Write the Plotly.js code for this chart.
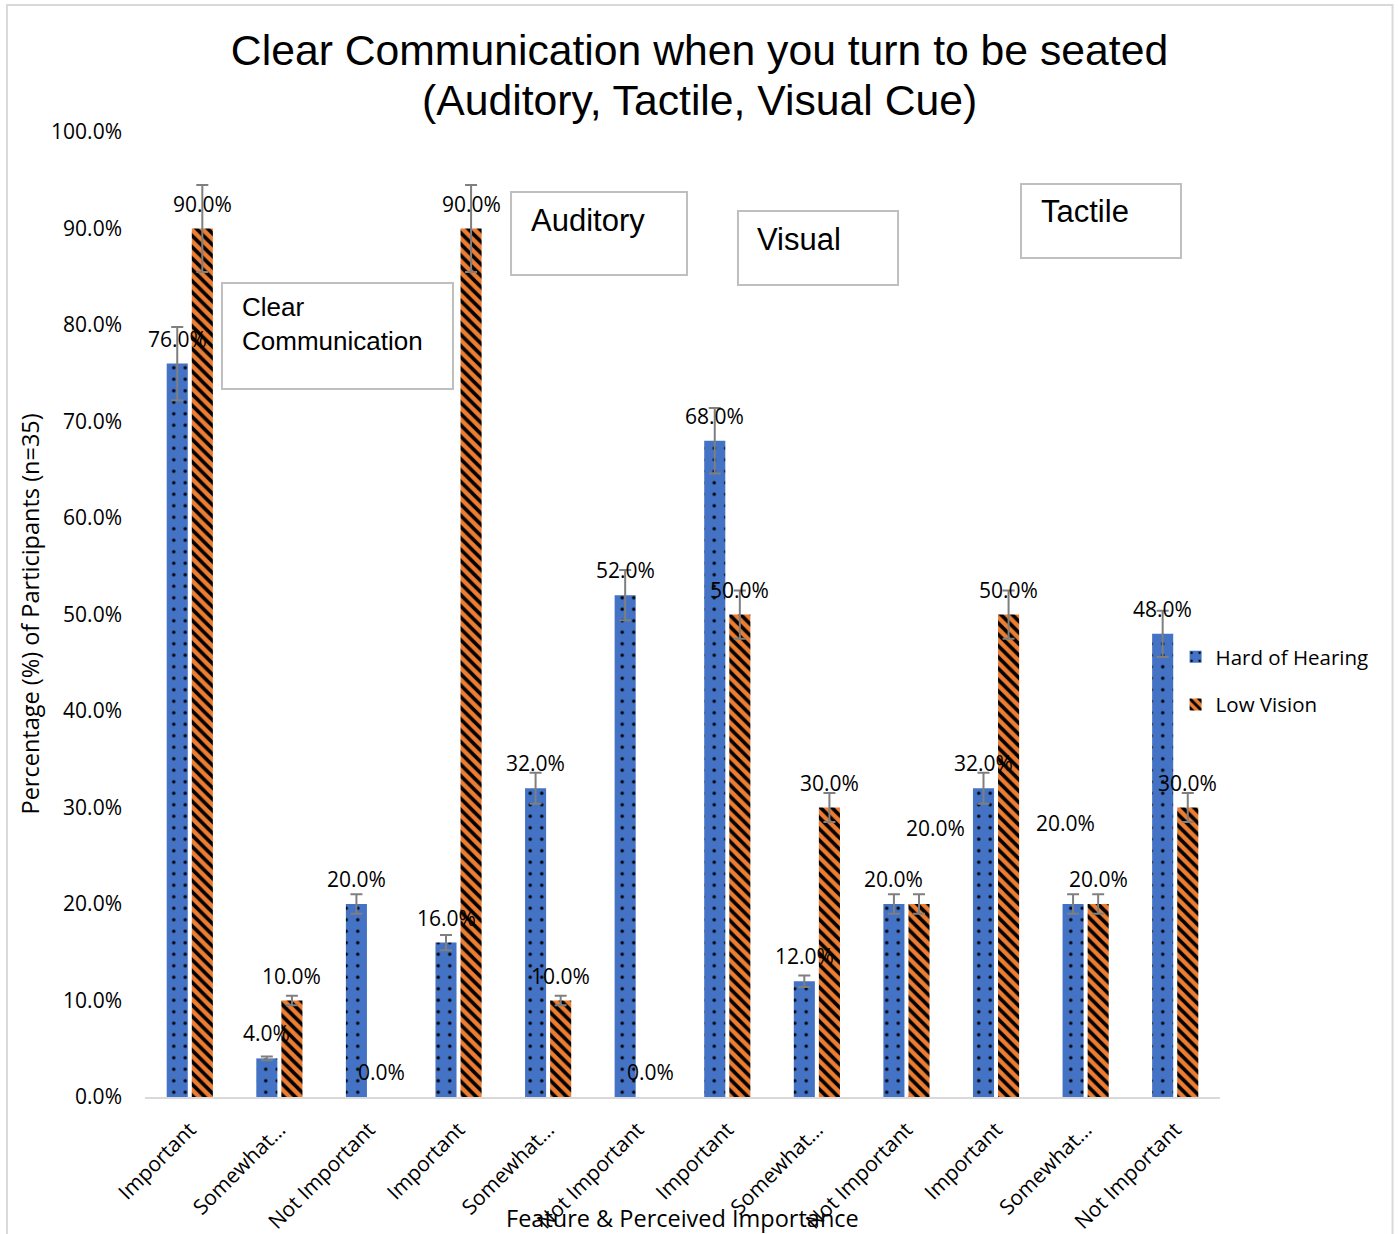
<!DOCTYPE html>
<html>
<head>
<meta charset="utf-8">
<script src="https://cdn.plot.ly/plotly-3.0.1.min.js"></script>
<style>
  html, body { margin: 0; padding: 0; background: #ffffff; }
  #chart { width: 1399px; height: 1234px; }
</style>
</head>
<body>
<div id="chart"></div>
<script>
// Response categories, grouped by feature (Clear Communication, Auditory, Visual, Tactile)
const tickLabels = [
  "Important", "Somewhat…", "Not Important",
  "Important", "Somewhat…", "Not Important",
  "Important", "Somewhat…", "Not Important",
  "Important", "Somewhat…", "Not Important"
];

// Percentage of participants per response
const hardOfHearing = [76, 4, 20, 16, 32, 52, 68, 12, 20, 32, 20, 48];
const lowVision     = [90, 10, 0, 90, 10, 0, 50, 30, 20, 50, 20, 30];

const seriesNames = ["Hard of Hearing", "Low Vision"];
const featureNames = ["Clear<br>Communication", "Auditory", "Visual", "Tactile"];
const titleLines = ["Clear Communication when you turn to be seated", "(Auditory, Tactile, Visual Cue)"];

// Error bars are 5% of each value; empty bars get none
const errorPercent = 5;

const xPos = tickLabels.map((_, i) => i);

const sansFamily = "Open Sans, Noto Sans, sans-serif";
const titleFamily = "Liberation Sans, Arial, sans-serif";
const labelFont = { family: sansFamily, size: 21, color: "#000000" };

function errBars(vals) {
  return {
    type: "data",
    array: vals.map(v => (v > 0 ? v * errorPercent / 100 : NaN)),
    visible: true,
    color: "#7f7f7f",
    thickness: 2,
    width: 6
  };
}

const traces = [
  {
    type: "bar",
    name: seriesNames[0],
    x: xPos,
    y: hardOfHearing,
    legendgroup: "hoh",
    marker: {
      color: "#4472C4",
      line: { width: 0 },
      pattern: { shape: ".", fillmode: "replace", fgcolor: "#000000", bgcolor: "#4472C4", size: 11.5, solidity: 0.07 }
    },
    error_y: errBars(hardOfHearing),
    hoverinfo: "y"
  },
  {
    type: "bar",
    name: seriesNames[1],
    x: xPos,
    y: lowVision,
    legendgroup: "lv",
    marker: {
      color: "#ED7D31",
      line: { width: 0 },
      pattern: { shape: "\\", fillmode: "replace", fgcolor: "#000000", bgcolor: "#ED7D31", size: 8, solidity: 0.45 }
    },
    error_y: errBars(lowVision),
    hoverinfo: "y"
  }
];

// Offset of each series' bar centre inside a category slot
const barOffset = 0.14;

// Value labels sit above each bar; two of them are nudged aside to avoid overlap
const nudges = {
  "1-8": { dx: 16, dy: -51 },
  "0-10": { dx: -8, dy: -56 }
};

const annotations = [];
[hardOfHearing, lowVision].forEach((vals, s) => {
  vals.forEach((v, i) => {
    const n = nudges[s + "-" + i] || { dx: 0, dy: 0 };
    annotations.push({
      x: i + (s === 0 ? -barOffset : barOffset),
      y: v,
      xref: "x", yref: "y",
      text: v.toFixed(1) + "%",
      showarrow: false,
      xanchor: "center", yanchor: "middle",
      xshift: n.dx,
      yshift: 25 - n.dy,
      font: labelFont
    });
  });
});

// Second line of the chart title
annotations.push({
  xref: "paper", yref: "paper",
  x: 0.5158, y: 1.0332,
  xanchor: "center", yanchor: "middle",
  text: titleLines[1],
  showarrow: false,
  font: { family: titleFamily, size: 42.7, color: "#000000" }
});

// Feature text boxes
const boxes = [
  { x0: 0.0716, x1: 0.2865, y0: 0.7337, y1: 0.8435, tx: 0.0885, ty: 0.801, size: 26 },
  { x0: 0.3405, x1: 0.5042, y0: 0.8518, y1: 0.9378, tx: 0.3575, ty: 0.9078, size: 31 },
  { x0: 0.5516, x1: 0.7005, y0: 0.8415, y1: 0.9181, tx: 0.5675, ty: 0.8891, size: 31 },
  { x0: 0.8149, x1: 0.9637, y0: 0.8694, y1: 0.9461, tx: 0.8315, ty: 0.9171, size: 31 }
];

const shapes = boxes.map(b => ({
  type: "rect", xref: "paper", yref: "paper",
  x0: b.x0, x1: b.x1, y0: b.y0, y1: b.y1,
  line: { color: "#bfbfbf", width: 2 },
  fillcolor: "rgba(255,255,255,0)",
  layer: "above"
}));

boxes.forEach((b, k) => {
  annotations.push({
    xref: "paper", yref: "paper",
    x: b.tx, y: b.ty,
    xanchor: "left", yanchor: "middle",
    align: "left",
    text: featureNames[k],
    showarrow: false,
    font: { family: titleFamily, size: b.size, color: "#000000" }
  });
});

// Outer chart frame
shapes.push({
  type: "path", xref: "paper", yref: "paper",
  path: "M -0.1284,-0.16 L -0.1284,1.1316 L 1.1605,1.1316 L 1.1605,-0.16",
  line: { color: "#d9d9d9", width: 2 },
  layer: "above"
});

// Axis titles
annotations.push({
  xref: "paper", yref: "paper",
  x: 0.5, y: -0.125,
  xanchor: "center", yanchor: "middle",
  text: "Feature & Perceived Importance",
  showarrow: false,
  font: { family: sansFamily, size: 23.5, color: "#000000" }
});
annotations.push({
  xref: "paper", yref: "paper",
  x: -0.1079, y: 0.5,
  xanchor: "center", yanchor: "middle",
  textangle: -90,
  text: "Percentage (%) of Participants (n=35)",
  showarrow: false,
  font: { family: sansFamily, size: 23.5, color: "#000000" }
});

const layout = {
  width: 1399,
  height: 1234,
  margin: { l: 145, r: 179, t: 132, b: 137 },
  paper_bgcolor: "#ffffff",
  plot_bgcolor: "#ffffff",
  title: {
    text: titleLines[0],
    font: { family: titleFamily, size: 42.7, color: "#000000" },
    xref: "container", x: 0.5, xanchor: "center",
    yref: "container", y: 0.9595, yanchor: "middle"
  },
  barmode: "group",
  bargap: 0.44,
  bargroupgap: 0.16,
  showlegend: true,
  legend: {
    x: 0.9587, xanchor: "left",
    y: 0.4767, yanchor: "top",
    tracegroupgap: 18,
    font: { family: sansFamily, size: 20.5, color: "#000000" },
    bgcolor: "rgba(255,255,255,0)"
  },
  xaxis: {
    range: [-0.5, 11.5],
    tickmode: "array",
    tickvals: xPos,
    ticktext: tickLabels,
    tickangle: -45,
    ticks: "",
    ticklabelstandoff: 10,
    showgrid: false,
    zeroline: false,
    showline: true,
    linecolor: "#d9d9d9",
    linewidth: 2,
    tickfont: { family: sansFamily, size: 21, color: "#000000" },
    automargin: false
  },
  yaxis: {
    range: [0, 100],
    dtick: 10,
    tick0: 0,
    tickformat: ".1f",
    ticksuffix: "%",
    ticks: "",
    showgrid: false,
    zeroline: false,
    showline: false,
    ticklabelstandoff: 22,
    tickfont: { family: sansFamily, size: 21, color: "#000000" },
    automargin: false
  },
  annotations: annotations,
  shapes: shapes
};

Plotly.newPlot("chart", traces, layout, { displayModeBar: false, staticPlot: true });
</script>
</body>
</html>
